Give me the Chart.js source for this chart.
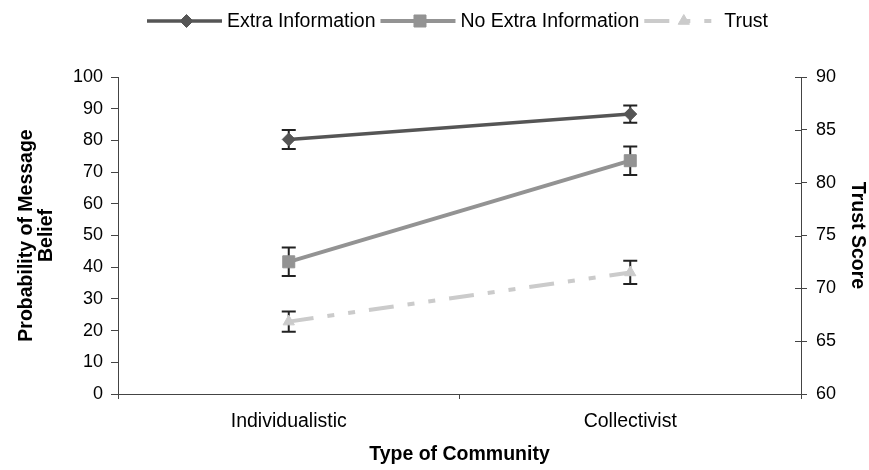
<!DOCTYPE html>
<html>
<head>
<meta charset="utf-8">
<script src="https://cdn.jsdelivr.net/npm/chart.js@4.4.1/dist/chart.umd.min.js"></script>
<style>
  body { margin: 0; background: #fff; }
  canvas { display: block; }
</style>
</head>
<body>
<canvas id="chart" width="869" height="470"></canvas>
<script>
const categories = ['Individualistic', 'Collectivist'];
const extraInfo = [80.3, 88.3];
const extraInfoErr = [3.0, 2.7];
const noExtraInfo = [41.7, 73.6];
const noExtraInfoErr = [4.5, 4.5];
const trust = [66.85, 71.5];
const trustErr = [0.95, 1.1];
const leftTicks = [0, 10, 20, 30, 40, 50, 60, 70, 80, 90, 100];
const rightTicks = [60, 65, 70, 75, 80, 85, 90];

const FONT = "'Liberation Sans', Arial, sans-serif";
const AXIS = '#444';

// black error bars behind the markers
const errorBars = {
  id: 'errorBars',
  beforeDatasetsDraw(chart) {
    const ctx = chart.ctx;
    const x = chart.scales.x;
    ctx.save();
    ctx.strokeStyle = '#222';
    ctx.lineWidth = 2;
    chart.data.datasets.forEach((ds) => {
      const y = chart.scales[ds.yAxisID];
      ds.data.forEach((v, i) => {
        const px = x.getPixelForValue(i);
        const top = y.getPixelForValue(v + ds.errors[i]);
        const bot = y.getPixelForValue(v - ds.errors[i]);
        ctx.beginPath();
        ctx.moveTo(px, top); ctx.lineTo(px, bot);
        ctx.moveTo(px - 7, top); ctx.lineTo(px + 7, top);
        ctx.moveTo(px - 7, bot); ctx.lineTo(px + 7, bot);
        ctx.stroke();
      });
    });
    ctx.restore();
  }
};

// right axis ticks cross the axis line, draw the inner half
const innerTicks = {
  id: 'innerTicks',
  afterDraw(chart) {
    const s = chart.scales.y2;
    const ctx = chart.ctx;
    ctx.save();
    ctx.strokeStyle = AXIS;
    ctx.lineWidth = 1;
    s.ticks.forEach((t, i) => {
      const py = Math.round(s.getPixelForTick(i)) + 0.5;
      ctx.beginPath();
      ctx.moveTo(s.left - 6, py);
      ctx.lineTo(s.left, py);
      ctx.stroke();
    });
    ctx.restore();
  }
};

// legend: line sample with the marker in the middle, like the original
const lineLegend = {
  id: 'lineLegend',
  afterDraw(chart) {
    const ctx = chart.ctx;
    const sample = 75, gap = 5;
    ctx.save();
    ctx.font = '19.5px ' + FONT;
    const items = chart.data.datasets.map((ds) => ({ ds, w: ctx.measureText(ds.label).width }));
    const total = items.reduce((a, it) => a + sample + gap + it.w + 5, 0) - 5;
    let x = (chart.chartArea.left + chart.chartArea.right) / 2 - total / 2 - 2;
    const y = 21;
    items.forEach(({ ds, w }) => {
      ctx.save();
      ctx.strokeStyle = ds.borderColor;
      ctx.lineWidth = ds.borderWidth;
      ctx.setLineDash(ds.borderDash || []);
      ctx.beginPath();
      ctx.moveTo(x, y); ctx.lineTo(x + sample, y);
      ctx.stroke();
      ctx.restore();
      ctx.save();
      ctx.fillStyle = ds.backgroundColor;
      ctx.strokeStyle = ds.borderColor;
      Chart.helpers.drawPoint(ctx, {
        pointStyle: ds.pointStyle, radius: ds.pointRadius, borderWidth: 1
      }, x + sample / 2 + 2, y);
      ctx.restore();
      ctx.fillStyle = '#000';
      ctx.textBaseline = 'middle';
      ctx.fillText(ds.label, x + sample + gap, y + 1);
      x += sample + gap + w + 5;
    });
    ctx.restore();
  }
};

new Chart(document.getElementById('chart'), {
  type: 'line',
  data: {
    labels: categories,
    datasets: [
      {
        label: 'Extra Information', data: extraInfo, errors: extraInfoErr, yAxisID: 'y',
        borderColor: '#555555', backgroundColor: '#555555', borderWidth: 3.5,
        pointStyle: 'rectRot', pointRadius: 6.5, pointBorderWidth: 1
      },
      {
        label: 'No Extra Information', data: noExtraInfo, errors: noExtraInfoErr, yAxisID: 'y',
        borderColor: '#939393', backgroundColor: '#939393', borderWidth: 4,
        pointStyle: 'rect', pointRadius: 8.5, pointBorderWidth: 1
      },
      {
        label: 'Trust', data: trust, errors: trustErr, yAxisID: 'y2',
        borderColor: '#cbcbcb', backgroundColor: '#cbcbcb', borderWidth: 4,
        borderDash: [25, 14, 7, 14, 7, 14],
        pointStyle: 'triangle', pointRadius: 6.5, pointBorderWidth: 1
      }
    ]
  },
  options: {
    responsive: false,
    animation: false,
    layout: { padding: { top: 77, left: 0, right: 0, bottom: 0 } },
    elements: { line: { tension: 0 } },
    plugins: {
      legend: { display: false },
      tooltip: { enabled: false }
    },
    scales: {
      x: {
        offset: true,
        afterFit: (s) => { s.height = 76; },
        grid: { offset: true, drawOnChartArea: false, tickLength: 5, color: AXIS },
        border: { color: AXIS },
        ticks: { color: '#000', padding: 11, font: { family: FONT, size: 19.5 } },
        title: {
          display: true, text: 'Type of Community', color: '#000',
          font: { family: FONT, size: 19.5, weight: 'bold', lineHeight: 1.2 },
          padding: { bottom: 4 }
        }
      },
      y: {
        position: 'left', min: 0, max: 100,
        afterFit: (s) => { s.width = 118; },
        afterBuildTicks: (s) => { s.ticks = leftTicks.map((v) => ({ value: v })); },
        grid: { drawOnChartArea: false, tickLength: 7, color: AXIS },
        border: { color: AXIS },
        ticks: { color: '#000', padding: 8, font: { family: FONT, size: 18 } },
        title: {
          display: true, text: ['Probability of Message', 'Belief'], color: '#000',
          font: { family: FONT, size: 19.5, weight: 'bold', lineHeight: 1.0 },
          padding: { top: 17 }
        }
      },
      y2: {
        position: 'right', min: 60, max: 90,
        afterFit: (s) => { s.width = 68; },
        afterBuildTicks: (s) => { s.ticks = rightTicks.map((v) => ({ value: v })); },
        grid: { drawOnChartArea: false, tickLength: 6, color: AXIS },
        border: { color: AXIS },
        ticks: { color: '#000', padding: 9, font: { family: FONT, size: 18 } },
        title: {
          display: true, text: 'Trust Score', color: '#000',
          font: { family: FONT, size: 19.5, weight: 'bold', lineHeight: 1.2 },
          padding: { top: 0 }
        }
      }
    }
  },
  plugins: [errorBars, innerTicks, lineLegend]
});
</script>
</body>
</html>
